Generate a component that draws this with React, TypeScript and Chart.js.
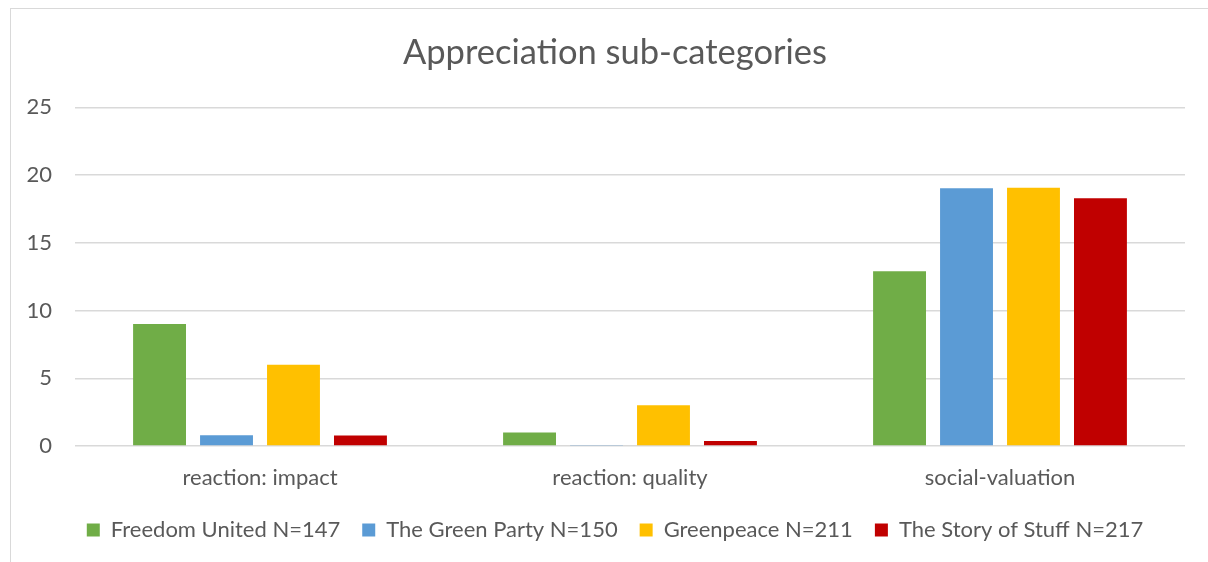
import React, { useEffect, useRef } from "react";
import { Chart, registerables } from "chart.js";

Chart.register(...registerables);

const categories = ["reaction: impact", "reaction: quality", "social-valuation"];
const seriesNames = [
  "Freedom United N=147",
  "The Green Party N=150",
  "Greenpeace N=211",
  "The Story of Stuff N=217",
];
const freedomUnited = [9, 1, 12.9];
const greenParty = [0.8, 0.07, 19.03];
const greenpeace = [6, 3, 19.07];
const storyOfStuff = [0.78, 0.37, 18.3];
const seriesColors = ["#70AD47", "#5B9BD5", "#FFC000", "#C00000"];
const yTicks = [0, 5, 10, 15, 20, 25];

const FONT = "Lato, 'Open Sans', sans-serif";
const TEXT = "#595959";

export default function App() {
  const ref = useRef<HTMLCanvasElement>(null);
  useEffect(() => {
    document.documentElement.style.overflow = "hidden";
    document.body.style.overflow = "hidden";
    if (!ref.current) return;
    const values = [freedomUnited, greenParty, greenpeace, storyOfStuff];
    const chart = new Chart(ref.current, {
      type: "bar",
      data: {
        labels: categories,
        datasets: seriesNames.map((name, i) => ({
          label: name,
          data: values[i],
          backgroundColor: seriesColors[i],
          borderWidth: 0,
          categoryPercentage: 0.724,
          barPercentage: 0.79,
        })),
      },
      options: {
        animation: false,
        responsive: false,
        devicePixelRatio: 1,
        layout: { padding: { left: 11, right: 0, top: 0, bottom: 11 } },
        plugins: {
          title: {
            display: true,
            text: "Appreciation sub-categories",
            color: TEXT,
            font: { family: FONT, size: 34.5, weight: "normal" },
            padding: { top: 23, bottom: 34 },
          },
          legend: {
            position: "bottom",
            labels: {
              color: TEXT,
              font: { family: FONT, size: 22 },
              boxWidth: 13,
              boxHeight: 13,
              padding: 22,
            },
          },
          tooltip: { enabled: false },
        },
        scales: {
          x: {
            grid: { display: false, drawTicks: false },
            border: { display: false },
            ticks: { color: TEXT, font: { family: FONT, size: 22 }, padding: 19 },
            afterFit: (s: any) => {
              s.height = 51;
            },
          },
          y: {
            min: 0,
            max: 25,
            afterBuildTicks: (s: any) => {
              s.ticks = yTicks.map((v) => ({ value: v }));
            },
            afterFit: (s: any) => {
              s.width = 53;
            },
            grid: { color: "#D9D9D9", lineWidth: 1.5, drawTicks: false },
            border: { display: false },
            ticks: { color: TEXT, font: { family: FONT, size: 22 }, padding: 23 },
          },
          yRightSpace: {
            position: "right",
            min: 0,
            max: 25,
            grid: { display: false, drawTicks: false },
            border: { display: false },
            ticks: { display: false },
            afterFit: (s: any) => {
              s.width = 23;
            },
          },
        },
      },
    });
    return () => chart.destroy();
  }, []);
  return (
    <div
      style={{
        position: "fixed",
        left: 10,
        top: 8,
        width: 1198,
        height: 554,
        boxSizing: "border-box",
        borderTop: "1px solid #D9D9D9",
        borderLeft: "1px solid #D9D9D9",
        overflow: "hidden",
      }}
    >
      <canvas ref={ref} width={1197} height={553} style={{ display: "block" }} />
    </div>
  );
}
